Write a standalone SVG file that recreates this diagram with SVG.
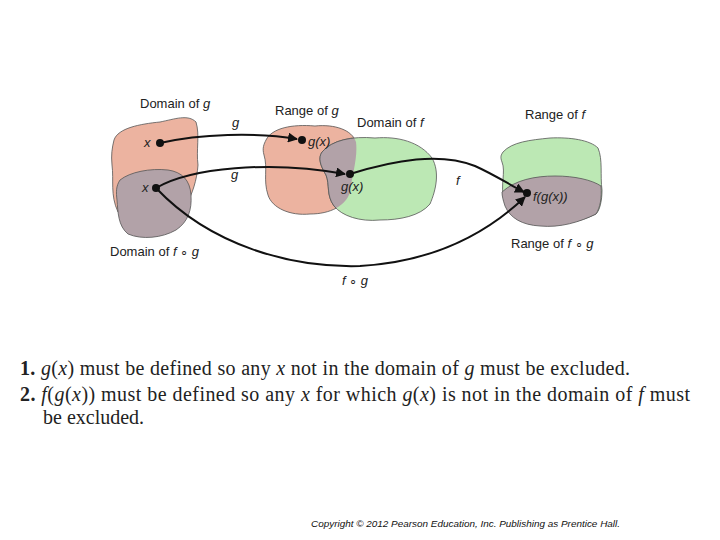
<svg xmlns="http://www.w3.org/2000/svg" width="720" height="540" viewBox="0 0 720 540">
<defs>
<style>
.lbl{font-family:"Liberation Sans",Arial,sans-serif;font-size:13px;fill:#222}
.it{font-style:italic}
.blob{stroke:#555;stroke-width:0.8}
.salmon{fill:#ecb3a0}
.green{fill:#bce8b4}
.gray{fill:#b2a2a8}
.con{fill:none;stroke:#111;stroke-width:2}
.dot{fill:#111}
.body{font-family:"Liberation Serif","Times New Roman",serif;font-size:20px;fill:#222}
.copy{font-family:"Liberation Sans",Arial,sans-serif;font-size:9px;font-style:italic;fill:#111}
</style>
<marker id="ah" viewBox="0 0 10 10" refX="9" refY="5" markerWidth="5" markerHeight="5" orient="auto-start-reverse" markerUnits="strokeWidth">
<path d="M0,0 L10,5 L0,10 z" fill="#111"/>
</marker>
<clipPath id="rgclip">
<path d="M266,140 C272,128 292,124 315,126 C335,124 352,130 356,142 C358,158 352,175 350,192 C346,206 330,214 310,214 C290,216 272,208 268,195 C263,180 268,168 264,155 C262,148 264,144 266,140 z"/>
</clipPath>
</defs>
<rect width="720" height="540" fill="#fff"/>

<g id="domain-g">
<path class="blob salmon" d="M114,140 C118,128 140,124 160,122 C175,119 188,114 196,122 C200,135 196,150 198,165 C197,180 192,195 186,205 C170,212 140,215 118,212 C110,195 114,180 112,165 C111,155 112,148 114,140 z"/>
<text class="lbl" x="140" y="108">Domain of <tspan class="it">g</tspan></text>
</g>
<g id="domain-fg">
<path class="blob gray" d="M120,180 C130,172 150,168 168,170 C182,172 190,180 191,195 C192,210 188,222 176,230 C162,238 142,240 128,234 C118,226 118,212 117,200 C116,192 116,186 120,180 z"/>
<text class="lbl" x="110" y="256">Domain of <tspan class="it">f</tspan> ∘ <tspan class="it">g</tspan></text>
</g>
<g id="range-g">
<path class="blob salmon" d="M266,140 C272,128 292,124 315,126 C335,124 352,130 356,142 C358,158 352,175 350,192 C346,206 330,214 310,214 C290,216 272,208 268,195 C263,180 268,168 264,155 C262,148 264,144 266,140 z"/>
<text class="lbl" x="275" y="115">Range of <tspan class="it">g</tspan></text>
</g>
<g id="domain-f">
<path class="blob green" d="M322,152 C332,140 352,136 375,138 C398,136 420,142 432,158 C440,172 436,190 430,204 C420,216 400,220 380,220 C360,222 342,216 334,206 C326,195 330,185 326,175 C320,165 318,158 322,152 z"/>
<path class="blob gray" clip-path="url(#rgclip)" d="M322,152 C332,140 352,136 375,138 C398,136 420,142 432,158 C440,172 436,190 430,204 C420,216 400,220 380,220 C360,222 342,216 334,206 C326,195 330,185 326,175 C320,165 318,158 322,152 z"/>
<text class="lbl" x="357" y="127">Domain of <tspan class="it">f</tspan></text>
</g>
<g id="range-f">
<path class="blob green" d="M503,152 C512,142 530,140 550,138 C570,137 590,140 598,148 C603,160 600,175 602,190 C602,200 600,210 596,214 C580,222 560,226 540,224 C520,222 508,214 504,200 C500,185 506,172 502,162 C500,157 501,155 503,152 z"/>
<path class="blob gray" d="M502,192 C515,180 535,176 555,176 C575,176 592,180 601,186 C602,198 600,208 596,214 C580,222 560,228 540,226 C522,225 510,218 505,206 C503,200 502,196 502,192 z"/>
<text class="lbl" x="525" y="119">Range of <tspan class="it">f</tspan></text>
<text class="lbl" x="511" y="248">Range of <tspan class="it">f</tspan> ∘ <tspan class="it">g</tspan></text>
</g>

<g id="connectors">
<path class="con" d="M160,143 C200,134 255,132 297,139" marker-end="url(#ah)"/>
<path class="con" d="M156,188 C190,168 270,160 345,174" marker-end="url(#ah)"/>
<path class="con" d="M350,174 C395,160 440,152 475,166 C495,175 510,185 524,192" marker-end="url(#ah)"/>
<path class="con" d="M156,188 C210,245 290,268 360,266 C430,262 485,235 525,197" marker-end="url(#ah)"/>
</g>

<g id="points">
<circle class="dot" cx="160" cy="143" r="4"/>
<circle class="dot" cx="302" cy="140" r="4"/>
<circle class="dot" cx="156" cy="188" r="4"/>
<circle class="dot" cx="350" cy="174" r="4"/>
<circle class="dot" cx="527" cy="193" r="4"/>
<text class="lbl it" x="144" y="147">x</text>
<text class="lbl it" x="142" y="192">x</text>
<text class="lbl it" x="308" y="146">g(x)</text>
<text class="lbl it" x="341" y="191">g(x)</text>
<text class="lbl it" x="533" y="201">f(g(x))</text>
<text class="lbl it" x="232" y="127">g</text>
<text class="lbl it" x="231" y="179">g</text>
<text class="lbl it" x="456" y="185">f</text>
<text class="lbl" x="342" y="285"><tspan class="it">f</tspan> ∘ <tspan class="it">g</tspan></text>
</g>

<g id="notes">
<text class="body" x="20" y="375" textLength="610" lengthAdjust="spacing"><tspan font-weight="bold">1.</tspan> <tspan class="it">g</tspan>(<tspan class="it">x</tspan>) must be defined so any <tspan class="it">x</tspan> not in the domain of <tspan class="it">g</tspan> must be excluded.</text>
<text class="body" x="20" y="401" textLength="670" lengthAdjust="spacing"><tspan font-weight="bold">2.</tspan> <tspan class="it">f</tspan>(<tspan class="it">g</tspan>(<tspan class="it">x</tspan>)) must be defined so any <tspan class="it">x</tspan> for which <tspan class="it">g</tspan>(<tspan class="it">x</tspan>) is not in the domain of <tspan class="it">f</tspan> must</text>
<text class="body" x="43" y="424">be excluded.</text>
</g>
<text class="copy" x="311" y="527" textLength="309" lengthAdjust="spacingAndGlyphs">Copyright © 2012 Pearson Education, Inc. Publishing as Prentice Hall.</text>
</svg>
